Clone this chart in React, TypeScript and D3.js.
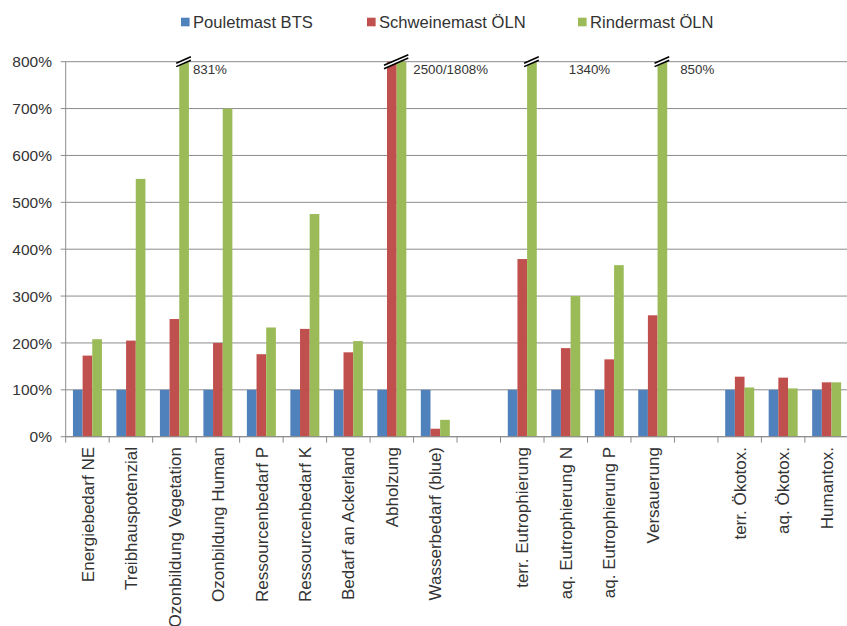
import React from "react";
import * as d3 from "d3";

const categories = [
  "Energiebedarf NE",
  "Treibhauspotenzial",
  "Ozonbildung Vegetation",
  "Ozonbildung Human",
  "Ressourcenbedarf P",
  "Ressourcenbedarf K",
  "Bedarf an Ackerland",
  "Abholzung",
  "Wasserbedarf (blue)",
  "",
  "terr. Eutrophierung",
  "aq. Eutrophierung N",
  "aq. Eutrophierung P",
  "Versauerung",
  "",
  "terr. Ökotox.",
  "aq. Ökotox.",
  "Humantox.",
];

const seriesNames = ["Pouletmast BTS", "Schweinemast ÖLN", "Rindermast ÖLN"];

const pouletmast = [100, 100, 100, 100, 100, 100, 100, 100, 100, null, 100, 100, 100, 100, null, 100, 100, 100];
const schweinemast = [173, 205, 251, 200, 176, 230, 180, 2500, 17, null, 379, 189, 165, 259, null, 128, 126, 116];
const rindermast = [208, 550, 831, 700, 233, 475, 204, 1808, 36, null, 1340, 300, 366, 850, null, 105, 103, 116];

const yTicks = [0, 100, 200, 300, 400, 500, 600, 700, 800];

const annotations = [
  { category: 2, text: "831%" },
  { category: 7, text: "2500/1808%" },
  { category: 10, text: "1340%" },
  { category: 13, text: "850%" },
];

// layout-only constants
const annotationDx = [4, 7, 32, 13];
const colors = ["#4F81BD", "#C0504D", "#9BBB59"];
const legendX = [181, 367, 578];

const W = 847;
const H = 626;
const x0 = 65.7;
const x1 = 848.4;
const yBottom = 436.7;
const yTop = 61.7;
const FONT = "'Liberation Sans', Arial, Helvetica, sans-serif";

export default function App() {
  const series = [pouletmast, schweinemast, rindermast];
  const yMax = yTicks[yTicks.length - 1];

  const x = d3
    .scaleBand<number>()
    .domain(categories.map((_, i) => i))
    .range([x0, x1])
    .paddingInner(0)
    .paddingOuter(0);

  const inner = d3
    .scaleBand<number>()
    .domain(series.map((_, i) => i))
    .range([0, x.bandwidth()])
    .paddingOuter(0.25 / 1)
    .paddingInner(0);
  // Excel gap width 50%: group = 3w, gap = 1.5w  -> outer padding 0.75w on each side
  const bw = x.bandwidth() / 4.5;
  const groupOffset = bw * 0.75;

  const y = d3.scaleLinear().domain([0, yMax]).range([yBottom, yTop]);

  const gridColor = "#8c8c8c";
  const textColor = "#333333";

  // break marks
  const breaks: { xl: number; xr: number }[] = [];
  categories.forEach((_, ci) => {
    const over = series
      .map((s, si) => ({ v: s[ci], si }))
      .filter((d) => d.v != null && (d.v as number) > yMax);
    if (over.length) {
      const first = over[0].si;
      const last = over[over.length - 1].si;
      const xl = (x(ci) as number) + groupOffset + first * bw;
      const xr = (x(ci) as number) + groupOffset + (last + 1) * bw;
      breaks.push({ xl: xl - 3, xr: xr + 2 });
    }
  });

  return (
    <svg
      width={W}
      height={H}
      style={{ position: "absolute", left: 0, top: 0, background: "#fff" }}
      fontFamily={FONT}
    >
      <rect x={0} y={0} width={W} height={H} fill="#fff" />
      {/* legend */}
      {seriesNames.map((name, i) => (
        <g key={name}>
          <rect x={legendX[i]} y={17.7} width={8.6} height={8.6} fill={colors[i]} />
          <text x={legendX[i] + 12} y={28.3} fontSize={16.6} fill={textColor}>
            {name}
          </text>
        </g>
      ))}

      {/* gridlines + y ticks */}
      {yTicks.map((t) => (
        <g key={t}>
          <line
            x1={x0 - 5}
            x2={W}
            y1={y(t)}
            y2={y(t)}
            stroke={gridColor}
            strokeWidth={1}
          />
          <text
            x={52}
            y={y(t)}
            dy="0.36em"
            textAnchor="end"
            fontSize={15.5}
            fill={textColor}
          >
            {t}%
          </text>
        </g>
      ))}

      {/* y axis */}
      <line x1={x0} x2={x0} y1={yTop} y2={yBottom} stroke={gridColor} strokeWidth={1} />

      {/* bars */}
      {series.map((s, si) =>
        s.map((v, ci) =>
          v == null ? null : (
            <rect
              key={`${si}-${ci}`}
              x={(x(ci) as number) + groupOffset + si * bw}
              y={y(Math.min(v, yMax))}
              width={bw}
              height={yBottom - y(Math.min(v, yMax))}
              fill={colors[si]}
            />
          )
        )
      )}

      {/* x axis */}
      <line x1={x0} x2={W} y1={yBottom} y2={yBottom} stroke={gridColor} strokeWidth={1} />
      {categories.map((_, i) => (
        <line
          key={`t${i}`}
          x1={(x(i) as number)}
          x2={(x(i) as number)}
          y1={yBottom}
          y2={yBottom + 6}
          stroke={gridColor}
        />
      ))}

      {/* break marks */}
      {breaks.map((b, i) => {
        const cy = yTop;
        const half = (b.xr - b.xl) * 0.22;
        const gap = 3.4;
        const p = (off: number) =>
          `M${b.xl},${cy + half + off} L${b.xr},${cy - half + off}`;
        return (
          <g key={`b${i}`}>
            <path
              d={`M${b.xl},${cy + half - gap / 2} L${b.xr},${cy - half - gap / 2} L${b.xr},${cy - half + gap / 2} L${b.xl},${cy + half + gap / 2} Z`}
              fill="#fff"
            />
            <path d={p(-gap / 2)} stroke="#000" strokeWidth={1.6} fill="none" />
            <path d={p(gap / 2)} stroke="#000" strokeWidth={1.6} fill="none" />
          </g>
        );
      })}

      {/* annotations */}
      {annotations.map((a, i) => (
        <text
          key={a.text}
          x={(x(a.category) as number) + groupOffset + 3 * bw + annotationDx[i]}
          y={74}
          fontSize={13.3}
          fill={textColor}
        >
          {a.text}
        </text>
      ))}

      {/* category labels */}
      {categories.map((c, i) =>
        c ? (
          <text
            key={`c${i}`}
            transform={`translate(${(x(i) as number) + x.bandwidth() / 2},447) rotate(-90)`}
            dy="0.36em"
            textAnchor="end"
            fontSize={17}
            fill={textColor}
          >
            {c}
          </text>
        ) : null
      )}
    </svg>
  );
}
